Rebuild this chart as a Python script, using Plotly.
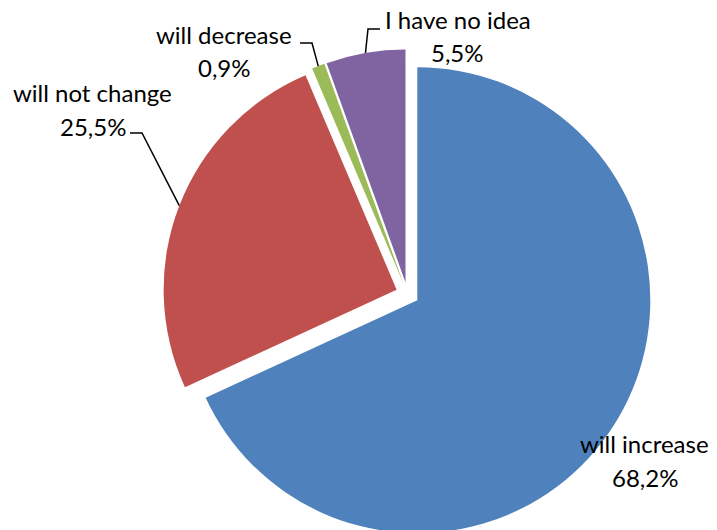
import math
import plotly.graph_objects as go

# ---- data ---------------------------------------------------------------
CATEGORIES = ["will increase", "will not change", "will decrease", "I have no idea"]
SHARES = [68.2, 25.5, 0.9, 5.5]
COLORS = ["#4F81BD", "#C0504D", "#9BBB59", "#8064A2"]

# ---- geometry (pixels) --------------------------------------------------
W, H = 717, 540
CX, CY = 407.5, 293.9      # pie centre
R = 233.0                  # pie radius
PULL = 0.05                # explode fraction for every slice
BOX = R * (1 + PULL)       # half size of the pie box plotly needs

FONT = "Lato"
FONT_SIZE = 24

# label layout: name centre, value centre, leader points from the text side
LABEL_LAYOUT = {
    "will increase": dict(name=(644, 443), value=(645, 477), leader=None),
    "will not change": dict(name=(92, 92), value=(93, 126), leader=[(130, 133), (142, 133)]),
    "will decrease": dict(name=(224, 34), value=(224, 68), leader=[(300, 43), (312, 43)]),
    "I have no idea": dict(name=(458, 20), value=(457, 53), leader=[(380, 29), (368, 29)]),
}


def px(x, y):
    """pixel position -> paper coordinates"""
    return x / W, 1 - y / H


def fmt(v):
    return f"{v:.1f}".replace(".", ",") + "%"


fig = go.Figure(
    go.Pie(
        labels=CATEGORIES,
        values=SHARES,
        marker=dict(colors=COLORS, line=dict(width=0)),
        sort=False,
        direction="clockwise",
        rotation=0,
        pull=[PULL] * len(SHARES),
        textinfo="none",
        hoverinfo="label+percent",
        showlegend=False,
        domain=dict(
            x=[(CX - BOX) / W, (CX + BOX) / W],
            y=[(H - CY - BOX) / H, (H - CY + BOX) / H],
        ),
    )
)

annotations = []
shapes = []
total = sum(SHARES)
cum = 0.0
for cat, val in zip(CATEGORIES, SHARES):
    mid = (cum + val / 2) / total
    cum += val
    theta = 2 * math.pi * mid
    # point on the outer edge of the pulled slice, at its middle angle
    ex = CX + BOX * math.sin(theta)
    ey = CY - BOX * math.cos(theta)

    lay = LABEL_LAYOUT[cat]
    for txt, pos in ((cat, lay["name"]), (fmt(val), lay["value"])):
        x, y = px(*pos)
        annotations.append(dict(
            text=txt, x=x, y=y, xref="paper", yref="paper",
            xanchor="center", yanchor="middle", showarrow=False,
            font=dict(family=FONT, size=FONT_SIZE, color="black"),
        ))

    if lay["leader"]:
        pts = [px(*p) for p in lay["leader"]] + [px(ex, ey)]
        path = "M " + " L ".join(f"{x:.5f},{y:.5f}" for x, y in pts)
        shapes.append(dict(
            type="path", path=path, xref="paper", yref="paper",
            line=dict(color="black", width=1.5),
        ))

fig.update_layout(
    width=W, height=H,
    margin=dict(l=0, r=0, t=0, b=0),
    paper_bgcolor="white",
    plot_bgcolor="white",
    annotations=annotations,
    shapes=shapes,
)

fig.write_html(
    "out.html",
    post_script="document.documentElement.style.overflow='hidden';"
                "document.body.style.overflow='hidden';",
)
